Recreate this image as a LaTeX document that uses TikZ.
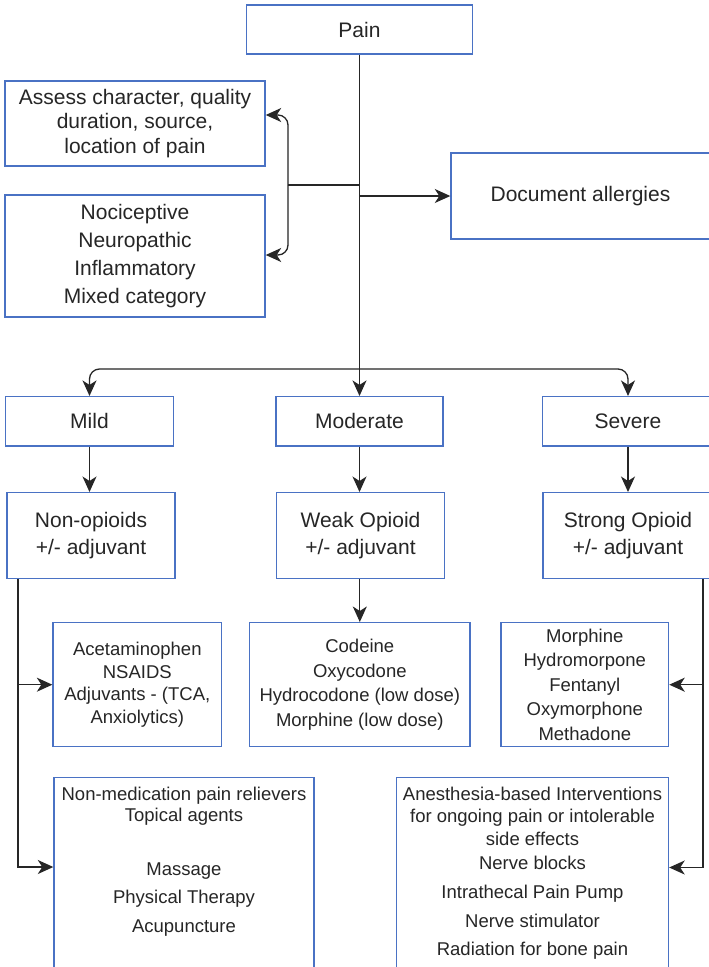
\documentclass[tikz,border=0pt]{standalone}
\usepackage{fontspec}
\setmainfont{Liberation Sans}
\usetikzlibrary{arrows.meta}
\definecolor{boxblue}{HTML}{4A72C4}
\definecolor{ink}{HTML}{262626}
\tikzset{
  box/.style={draw=boxblue, line width=1.4pt, fill=white, align=center,
    inner sep=0pt, text=ink},
  big/.style={font=\fontsize{21}{25}\selectfont},
  plain/.style={draw=ink, line width=1.3pt},
  link/.style={plain, -{Stealth[length=15.5pt,width=14pt,inset=4.5pt]}},
  elbow/.style={link, rounded corners=10pt},
}
\begin{document}
\begin{tikzpicture}[x=1pt,y=-1pt]
\useasboundingbox (0,0) rectangle (709,967);
\clip (0,0) rectangle (709,967);
\fill[white] (0,0) rectangle (709,967);

% top level
\node[box,big,minimum width=226pt,minimum height=49pt] (pain) at (359.5,29.5) {Pain};
\node[box,font=\fontsize{21}{24.8}\selectfont,minimum width=260pt,minimum height=85pt]
  (assess) at (135,123.5) {Assess character, quality\\duration, source,\\location of pain};
\node[box,font=\fontsize{21}{27.8}\selectfont,minimum width=260pt,minimum height=122pt]
  (noci) at (135,256) {Nociceptive\\Neuropathic\\Inflammatory\\Mixed category};
\node[box,big,minimum width=259pt,minimum height=86pt] (allergy) at (580.5,196) {Document allergies};

% severity
\node[box,big,minimum width=168pt,minimum height=49.3pt] (mild) at (89.5,421.3) {Mild};
\node[box,big,minimum width=167pt,minimum height=49.3pt] (moderate) at (359.5,421.3) {Moderate};
\node[box,big,minimum width=171pt,minimum height=49.3pt] (severe) at (628,421.3) {Severe};

% analgesic step
\node[box,font=\fontsize{21}{26.6}\selectfont,minimum width=168pt,minimum height=85.6pt]
  (nonop) at (91,535.5) {Non-opioids\\+/- adjuvant};
\node[box,font=\fontsize{21}{26.6}\selectfont,minimum width=167.7pt,minimum height=85.6pt]
  (weak) at (360.5,535.5) {Weak Opioid\\+/- adjuvant};
\node[box,font=\fontsize{21}{26.6}\selectfont,minimum width=170pt,minimum height=85.6pt]
  (strong) at (628,535.5) {Strong Opioid\\+/- adjuvant};

% drugs
\node[box,font=\fontsize{18.5}{22.5}\selectfont,minimum width=168.5pt,minimum height=124pt]
  (acet) at (137.3,684.7) {Acetaminophen\\NSAIDS\\Adjuvants - (TCA,\\Anxiolytics)};
\node[box,font=\fontsize{18.5}{24.6}\selectfont,minimum width=220.5pt,minimum height=124pt]
  (codeine) at (359.8,684.7) {Codeine\\Oxycodone\\Hydrocodone (low dose)\\Morphine (low dose)};
\node[box,font=\fontsize{18.5}{24.5}\selectfont,minimum width=167.5pt,minimum height=124pt]
  (morph) at (584.8,684.7) {Morphine\\Hydromorpone\\Fentanyl\\Oxymorphone\\Methadone};

% other measures
\node[box,minimum width=260pt,minimum height=212pt] (nonmed) at (184,883.7) {};
\node[font=\fontsize{18.5}{21.7}\selectfont,align=center,inner sep=0pt,text=ink,anchor=north]
  (nonmedtext) at (184,786.5) {Non-medication pain relievers\\Topical agents\\[32pt]Massage\\[6pt]Physical Therapy\\[8pt]Acupuncture};
\node[box,minimum width=272pt,minimum height=212pt] (anest) at (532.5,883.7) {};
\node[font=\fontsize{18.5}{22.5}\selectfont,align=center,inner sep=0pt,text=ink,anchor=north]
  (anesttext) at (532.5,786.5) {Anesthesia-based Interventions\\for ongoing pain or intolerable\\side effects\\[2pt]Nerve blocks\\[6pt]Intrathecal Pain Pump\\[7pt]Nerve stimulator\\[5pt]Radiation for bone pain};

% connectors
\coordinate (split) at (359.5,369);
\coordinate (jA) at (288,185);
\draw[link] (pain.south) -- (moderate.north);
\draw[plain] (jA) -- (jA -| pain.south);
\draw[elbow] (jA) |- (assess.east |- 0,115);
\draw[elbow] (jA) |- (noci.east |- 0,255);
\draw[link] (pain.south |- allergy.west) -- (allergy.west);
\draw[elbow] (split) -| (mild.north);
\draw[elbow] (split) -| (severe.north);

\draw[link] (mild.south) -- (mild.south |- nonop.north);
\draw[link] (moderate.south) -- (moderate.south |- weak.north);
\draw[link] (severe.south) -- (severe.south |- strong.north);
\draw[link] (weak.south -| codeine.north) -- (codeine.north);

\coordinate (ltop) at (nonop.south -| 18,0);
\draw[link] (ltop) |- (acet.west);
\draw[link] (ltop) |- (nonmed.west |- 0,867);
\coordinate (rtop) at (strong.south -| 703,0);
\draw[link] (rtop) |- (morph.east);
\draw[link] (rtop) |- (anest.east |- 0,867.5);
\end{tikzpicture}
\end{document}
